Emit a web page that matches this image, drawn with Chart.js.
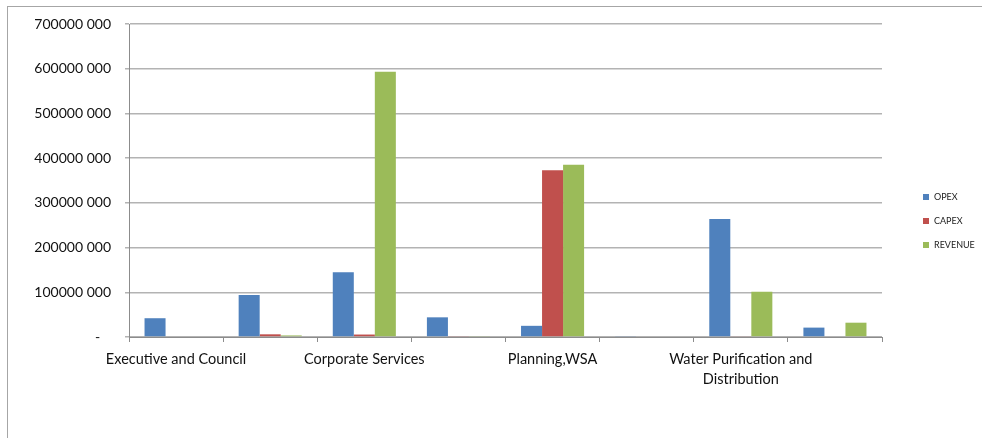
<!DOCTYPE html>
<html>
<head>
<meta charset="utf-8">
<script src="https://cdn.jsdelivr.net/npm/chart.js@4/dist/chart.umd.min.js"></script>
<style>
  body { margin: 0; background: #fff; overflow: hidden; }
  #frame { position: absolute; left: 7px; top: 6px; width: 990px; height: 450px; border: 1px solid #a6a6a6; }
  canvas { display: block; }
</style>
</head>
<body>
<div id="frame"><canvas id="myChart" width="975" height="432"></canvas></div>
<script>
// departments (every other label is hidden in the original chart)
const categorias = ['Executive and Council', '', 'Corporate Services', '', 'Planning,WSA', '', ['Water Purification and', 'Distribution'], ''];
const opex    = [42000000, 94000000, 145000000, 44000000, 25000000, 2000000, 264000000, 21000000];
const capex   = [0, 6000000, 5500000, 2000000, 373000000, 0, 1500000, 0];
const revenue = [0, 3500000, 593000000, 2000000, 385000000, 0, 101000000, 32000000];
const yTicks = [0, 100000000, 200000000, 300000000, 400000000, 500000000, 600000000, 700000000];

const fuente = 'Lato, "Open Sans", sans-serif';

function formatoY(v){
    if(v === 0) return '-   ';
    return Math.floor(v / 1000) + ' 000';
}

// legend drawn on the right like in the excel chart
const leyendaDerecha = {
    id: 'leyendaDerecha',
    afterDraw(chart){
        const c = chart.ctx;
        c.save();
        c.font = '9px ' + fuente;
        c.textBaseline = 'middle';
        chart.data.datasets.forEach((ds, i) => {
            const y = 190 + i * 24;
            c.fillStyle = ds.backgroundColor;
            c.fillRect(915, y - 3, 6, 6);
            c.fillStyle = '#222';
            c.fillText(ds.label, 926, y);
        });
        c.restore();
    }
};

const ctx = document.getElementById('myChart');

const myChart = new Chart(ctx, {
    type: 'bar',
    data: {
        labels: categorias,
        datasets: [
            { label: 'OPEX', data: opex, backgroundColor: '#4f81bd' },
            { label: 'CAPEX', data: capex, backgroundColor: '#c0504d' },
            { label: 'REVENUE', data: revenue, backgroundColor: '#9bbb59' }
        ]
    },
    options: {
        responsive: false,
        devicePixelRatio: 1,
        animation: false,
        categoryPercentage: 0.67,
        barPercentage: 1,
        layout: { padding: { top: 17, right: 101, left: 0, bottom: 0 } },
        plugins: {
            legend: { display: false },
            tooltip: { enabled: false }
        },
        scales: {
            x: {
                grid: { offset: true, drawOnChartArea: false, color: '#8c8c8c', tickLength: 5 },
                border: { color: '#8c8c8c' },
                ticks: {
                    autoSkip: false, maxRotation: 0, padding: 7,
                    color: '#111', font: { family: fuente, size: 14.5, lineHeight: 1.4 }
                },
                afterFit(scale){ scale.height = 102; }
            },
            y: {
                min: 0,
                max: 700000000,
                afterBuildTicks(scale){ scale.ticks = yTicks.map(v => ({ value: v })); },
                grid: { color: '#b3b3b3', lineWidth: 1.5, tickLength: 4 },
                border: { color: '#8c8c8c' },
                ticks: {
                    padding: 14,
                    color: '#111',
                    font: { family: fuente, size: 14 },
                    callback: (v) => formatoY(v)
                },
                afterFit(scale){ scale.width = 121; scale.paddingTop = 0; scale.paddingBottom = 0; }
            }
        }
    },
    plugins: [leyendaDerecha]
});
</script>
</body>
</html>
